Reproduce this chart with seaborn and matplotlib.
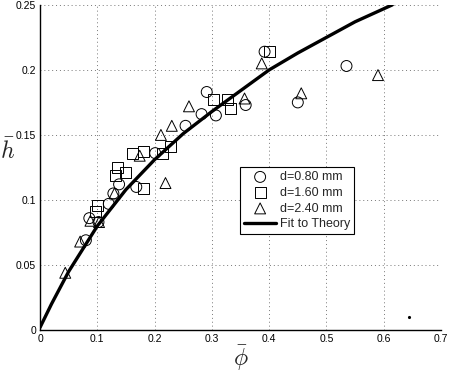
import numpy as np
import pandas as pd
import seaborn as sns
import matplotlib
matplotlib.use("Agg")
import matplotlib.pyplot as plt

# ---------------- data ----------------
phi_080 = [0.080, 0.086, 0.102, 0.120, 0.128, 0.138, 0.168, 0.201, 0.254,
           0.282, 0.291, 0.307, 0.359, 0.392, 0.450, 0.535]
h_080 = [0.069, 0.086, 0.083, 0.097, 0.105, 0.112, 0.110, 0.136, 0.157,
         0.166, 0.183, 0.165, 0.173, 0.214, 0.175, 0.203]

phi_160 = [0.097, 0.101, 0.131, 0.136, 0.150, 0.162, 0.181, 0.181, 0.214,
           0.227, 0.303, 0.327, 0.333, 0.401]
h_160 = [0.091, 0.096, 0.119, 0.125, 0.121, 0.136, 0.137, 0.109, 0.136,
         0.141, 0.177, 0.177, 0.170, 0.214]

phi_240 = [0.044, 0.070, 0.088, 0.103, 0.130, 0.174, 0.211, 0.219, 0.230,
           0.260, 0.357, 0.387, 0.456, 0.590]
h_240 = [0.044, 0.068, 0.084, 0.083, 0.105, 0.134, 0.150, 0.113, 0.157,
         0.172, 0.178, 0.205, 0.182, 0.196]

fit_phi = [0.0, 0.02, 0.05, 0.10, 0.15, 0.20, 0.25, 0.30, 0.35, 0.40,
           0.45, 0.50, 0.55, 0.60, 0.615]
fit_h = [0.002, 0.020, 0.045, 0.080, 0.108, 0.131, 0.151, 0.168, 0.184,
         0.200, 0.213, 0.225, 0.237, 0.247, 0.250]

stray_phi = [0.645]
stray_h = [0.010]

series_labels = ["d=0.80 mm", "d=1.60 mm", "d=2.40 mm"]
series_markers = ["o", "s", "^"]

xticks = [0, 0.1, 0.2, 0.3, 0.4, 0.5, 0.6, 0.7]
xtick_labels = ["0", "0.1", "0.2", "0.3", "0.4", "0.5", "0.6", "0.7"]
yticks = [0, 0.05, 0.1, 0.15, 0.2, 0.25]
ytick_labels = ["0", "0.05", "0.1", "0.15", "0.2", "0.25"]

# ---------------- plot ----------------
sns.set_style("white")
plt.rcParams["font.family"] = ["Liberation Sans", "DejaVu Sans"]
plt.rcParams["mathtext.fontset"] = "cm"

fig = plt.figure(figsize=(4.5, 3.75), dpi=100)
ax = fig.add_axes([0.089, 0.12, 0.891, 0.867])

groups = [(phi_080, h_080), (phi_160, h_160), (phi_240, h_240)]
for (px, py), lab, mk in zip(groups, series_labels, series_markers):
    df = pd.DataFrame({"phi": px, "h": py})
    sns.scatterplot(data=df, x="phi", y="h", marker=mk, s=62,
                    facecolors="none", edgecolor="black", linewidth=0.7,
                    label=lab, ax=ax, zorder=3)

fit = pd.DataFrame({"phi": fit_phi, "h": fit_h})
sns.lineplot(data=fit, x="phi", y="h", color="black", linewidth=2.4,
             label="Fit to Theory", ax=ax, zorder=4)

ax.plot(stray_phi, stray_h, ".", color="black", markersize=2.5)

ax.set_xlim(0, 0.7)
ax.set_ylim(0, 0.25)
ax.set_xticks(xticks)
ax.set_xticklabels(xtick_labels)
ax.set_yticks(yticks)
ax.set_yticklabels(ytick_labels)
ax.tick_params(direction="in", length=4, width=0.8, labelsize=7.5,
               colors="black", pad=3)

ax.grid(True, linestyle=(0, (1, 3)), color="#777777", linewidth=0.7)
ax.set_axisbelow(True)
for side in ["top", "right"]:
    ax.spines[side].set_visible(False)
for side in ["left", "bottom"]:
    ax.spines[side].set_color("black")
    ax.spines[side].set_linewidth(1.0)

ax.set_xlabel(r"$\bar{\phi}$", fontsize=17)
ax.set_ylabel(r"$\bar{h}$", fontsize=17, rotation=0)
ax.xaxis.set_label_coords(0.5, -0.04)
ax.yaxis.set_label_coords(-0.08, 0.51)

# legend: markers first, fit line last
handles, labels = ax.get_legend_handles_labels()
order = [labels.index(l) for l in series_labels + ["Fit to Theory"]]
leg = ax.legend([handles[i] for i in order], [labels[i] for i in order],
                loc="upper left", bbox_to_anchor=(0.499, 0.50),
                borderaxespad=0, fontsize=9, frameon=True, fancybox=False,
                framealpha=1, edgecolor="black", handlelength=2.6,
                handletextpad=0.3, labelspacing=0.3, borderpad=0.3)
leg.get_frame().set_linewidth(0.8)

fig.savefig("out.png", dpi=100)
